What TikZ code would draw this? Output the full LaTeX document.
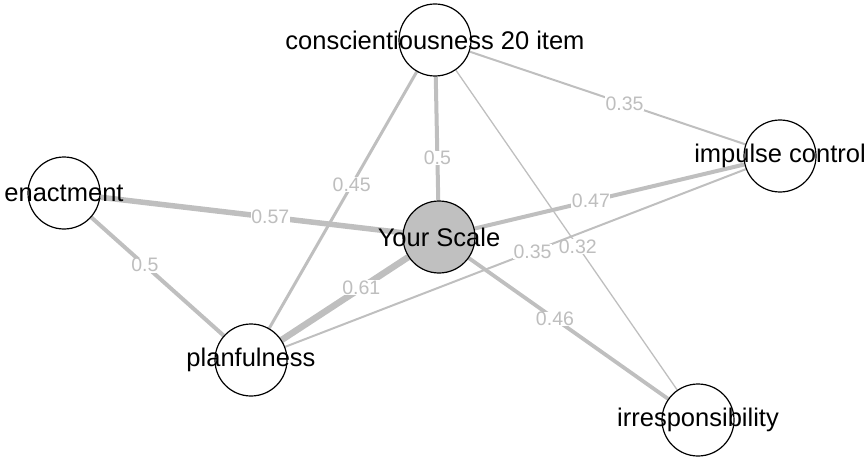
\documentclass[tikz,border=0pt]{standalone}
\usepackage{fontspec}
\setmainfont{Liberation Sans}
\usetikzlibrary{backgrounds}
\definecolor{edgegray}{RGB}{191,191,191}
\definecolor{labgray}{RGB}{190,190,190}
\definecolor{scalefill}{RGB}{192,192,192}
\tikzset{
  circ/.style={circle, draw=black, line width=1.2pt, fill=white, minimum size=72pt, inner sep=0pt},
  ntext/.style={font=\fontsize{25.5}{29}\selectfont, text=black, inner sep=0pt},
  elab/.style={font=\fontsize{19.5}{22}\selectfont, text=labgray, fill=white, inner sep=0.5pt},
  edge/.style={draw=edgegray, line cap=butt}
}
\begin{document}
\begin{tikzpicture}[x=1pt, y=-1pt]
\useasboundingbox (0,0) rectangle (866,457);
% nodes (circles)
\node[circ] (C) at (435,40) {};
\node[circ, fill=scalefill] (Y) at (439,237) {};
\node[circ] (P) at (251,360) {};
\node[circ] (R) at (698,420) {};
\node[circ] (I) at (780,156) {};
\node[circ] (E) at (64,193) {};
% edges
\begin{scope}[on background layer]
\draw[edge, line width=1.3pt] (C) -- (R) node[elab, pos=0.551] (l4) {0.32};
\draw[edge, line width=2pt] (I) -- (P) node[elab, pos=0.463] (l8) {0.35};
\draw[edge, line width=2pt] (C) -- (I) node[elab, pos=0.562] (l2) {0.35};
\draw[edge, line width=3pt] (C) -- (P) node[elab, pos=0.441] (l3) {0.45};
\draw[edge, line width=4pt] (C) -- (Y) node[elab, pos=0.657] (l1) {0.5};
\draw[edge, line width=5.5pt] (E) -- (Y) node[elab, pos=0.562] (l5) {0.57};
\draw[edge, line width=4pt] (E) -- (P) node[elab, pos=0.405] (l6) {0.5};
\draw[edge, line width=4pt] (Y) -- (I) node[elab, pos=0.431] (l7) {0.47};
\draw[edge, line width=6.5pt] (Y) -- (P) node[elab, pos=0.372] (l9) {0.61};
\draw[edge, line width=3.8pt] (Y) -- (R) node[elab, pos=0.432] (l10) {0.46};
\end{scope}
% node texts
\node[ntext] (Ct) at (C) {conscientiousness 20 item};
\node[ntext] (Yt) at (Y) {Your Scale};
\node[ntext] (Pt) at (P) {planfulness};
\node[ntext] (Rt) at (R) {irresponsibility};
\node[ntext] (It) at (I) {impulse control};
\node[ntext] (Et) at (E) {enactment};
\end{tikzpicture}
\end{document}
